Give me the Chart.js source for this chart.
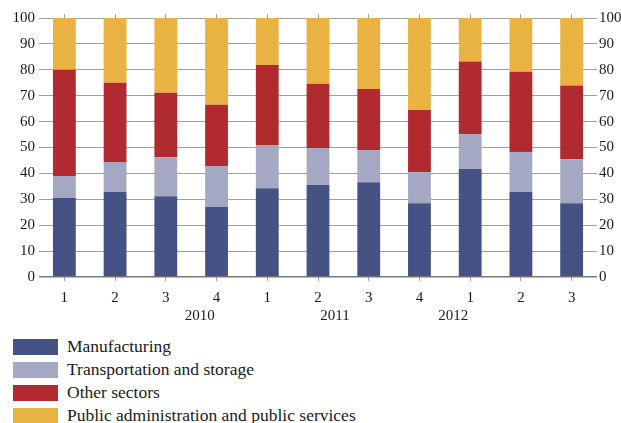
<!DOCTYPE html>
<html>
<head>
<meta charset="utf-8">
<script src="https://cdn.jsdelivr.net/npm/chart.js@4/dist/chart.umd.min.js"></script>
<style>
    html, body { margin: 0; padding: 0; background: #fff; }
    #wrap { position: relative; width: 621px; height: 423px; overflow: hidden; }
    #chart { position: absolute; left: 0; top: 0; }
    #legend { position: absolute; left: 13px; top: 338px; font-family: "Liberation Serif", "Times New Roman", serif; font-size: 17.5px; color: #1a1a1a; }
    .item { display: flex; align-items: center; height: 23px; }
    .box { width: 45px; height: 16px; margin-right: 9px; flex: none; }
    .item:first-child { margin-top: -3px; }
</style>
</head>
<body>
<div id="wrap">
    <canvas id="chart" width="621" height="325"></canvas>
    <div id="legend"></div>
</div>
<script>
// quarters and years along the bottom
const quarters = ['1', '2', '3', '4', '1', '2', '3', '4', '1', '2', '3'];
const years = ['2010', '2011', '2012'];
const yearCentres = [1.5, 5.5, 9];

const seriesNames = ['Manufacturing', 'Transportation and storage', 'Other sectors', 'Public administration and public services'];
const seriesColors = ['#465283', '#a4a8c3', '#b02a30', '#e8b342'];

// shares in percent
const manufacturing = [30.5, 32.8, 31.2, 27.0, 34.3, 35.5, 36.6, 28.5, 41.7, 32.8, 28.5];
const transport = [8.5, 11.6, 15.1, 15.8, 16.7, 14.3, 12.4, 12.0, 13.5, 15.5, 17.0];
const otherSectors = [41.0, 30.6, 24.8, 23.7, 30.9, 24.8, 23.6, 24.0, 28.0, 30.9, 28.4];
const publicAdmin = [20.0, 25.0, 28.9, 33.5, 18.1, 25.4, 27.4, 35.5, 16.8, 20.8, 26.1];

const yTicks = [0, 10, 20, 30, 40, 50, 60, 70, 80, 90, 100];

const font = { family: '"Liberation Serif", "Times New Roman", serif', size: 15 };
const gridGrey = '#a0a0a0';

const allSeries = [manufacturing, transport, otherSectors, publicAdmin];

const datasets = allSeries.map((values, i) => ({
    label: seriesNames[i],
    data: values,
    backgroundColor: seriesColors[i],
    borderWidth: 0,
    barPercentage: 0.9,
    categoryPercentage: 0.5,
    xAxisID: 'x',
    yAxisID: 'y'
}));

const yAxis = (position, width, pad) => ({
    position: position,
    min: 0,
    max: 100,
    stacked: true,
    afterBuildTicks: scale => { scale.ticks = yTicks.map(v => ({ value: v })); },
    afterFit: scale => { scale.width = width; },
    grid: {
        color: ctx => ctx.tick && ctx.tick.value === 0 ? '#7a7a7a' : gridGrey,
        lineWidth: ctx => ctx.tick && ctx.tick.value === 0 ? 1.5 : 1,
        drawOnChartArea: position === 'left',
        drawTicks: false
    },
    border: { display: false },
    ticks: { color: '#1a1a1a', font: font, padding: pad }
});

new Chart(document.getElementById('chart'), {
    type: 'bar',
    data: { labels: quarters, datasets: datasets },
    options: {
        responsive: false,
        animation: false,
        layout: { padding: { top: 14, left: 0, right: 0, bottom: 0 } },
        plugins: { legend: { display: false }, tooltip: { enabled: false } },
        scales: {
            x: {
                position: 'bottom',
                stacked: true,
                offset: true,
                grid: { drawOnChartArea: false, offset: false, tickLength: 4, color: gridGrey },
                border: { display: false },
                ticks: { color: '#1a1a1a', font: font, padding: 8, maxRotation: 0, autoSkip: false },
                afterFit: scale => { scale.height = 30; }
            },
            xYear: {
                type: 'linear',
                position: 'bottom',
                min: -0.5,
                max: 10.5,
                afterBuildTicks: scale => { scale.ticks = yearCentres.map(v => ({ value: v })); },
                grid: { display: false, drawTicks: false },
                border: { display: false },
                ticks: {
                    color: '#1a1a1a',
                    font: font,
                    padding: 0,
                    maxRotation: 0,
                    autoSkip: false,
                    callback: (value) => years[yearCentres.indexOf(value)]
                }
            },
            xTop: {
                type: 'category',
                labels: quarters,
                position: 'top',
                offset: true,
                grid: { drawOnChartArea: false, offset: false, tickLength: 4, color: gridGrey },
                border: { display: false },
                ticks: { display: false },
                afterFit: scale => { scale.height = 4; }
            },
            y: yAxis('left', 39, 4),
            y2: yAxis('right', 24, 2)
        }
    }
});

// legend stacked under the chart
document.getElementById('legend').innerHTML = seriesNames.map((name, i) => `
    <div class="item"><span class="box" style="background:${seriesColors[i]}"></span><span>${name}</span></div>
`).join('');
</script>
</body>
</html>
